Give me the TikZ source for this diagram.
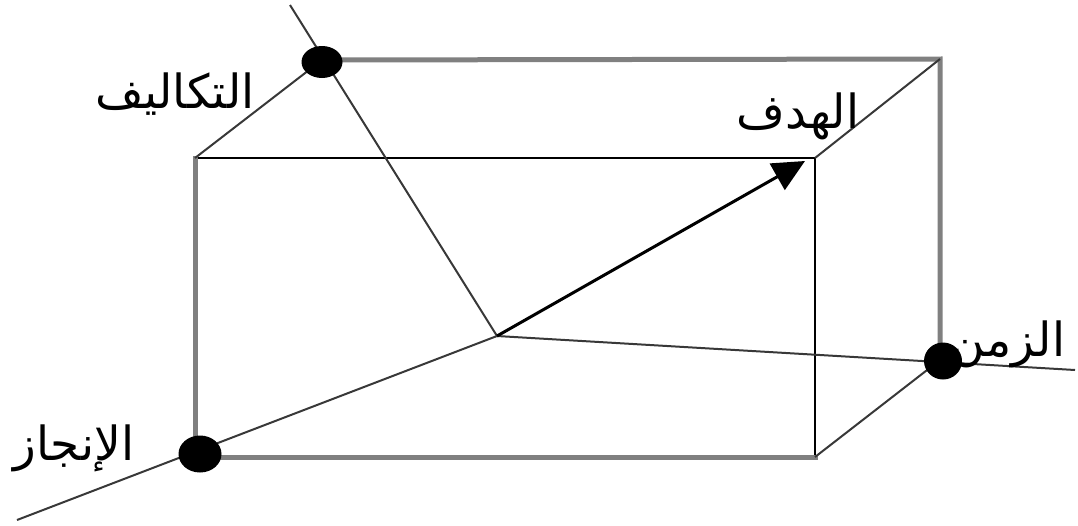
\documentclass[tikz,border=0pt]{standalone}
\usepackage{fontspec}
\newfontfamily\arabicfont[Script=Arabic]{DejaVu Sans}
\TeXXeTstate=1
\usetikzlibrary{arrows.meta,shapes.geometric}
\definecolor{edgegray}{HTML}{808080}
\definecolor{axisgray}{HTML}{383838}
\begin{document}
\begin{tikzpicture}[x=1pt,y=-1pt,
  grayedge/.style={draw=edgegray,line width=5pt,line cap=rect},
  thinedge/.style={draw=black,line width=2.2pt},
  diagedge/.style={draw=axisgray,line width=2pt},
  axisline/.style={draw=axisgray,line width=2pt},
  dotnode/.style={ellipse,fill=black,inner sep=0pt},
  lbl/.style={font=\arabicfont\fontsize{47}{54}\selectfont,anchor=base,inner sep=0pt}]
\useasboundingbox (0,0) rectangle (1078,525);
% corners
\coordinate (FTL) at (195,158);
\coordinate (FTR) at (815,158);
\coordinate (FBR) at (815,457);
\coordinate (FBL) at (195,457);
\coordinate (BTL) at (322,60);
\coordinate (BTR) at (940,59);
\coordinate (BBR) at (940,360);
\coordinate (O) at (497,336);
\coordinate (costEnd) at (290,5);
\coordinate (achEnd) at (17,520);
\coordinate (timeEnd) at (1075,370);
\coordinate (goal) at (805,161);
% box
\draw[thinedge] (FTL) -- (FTR) -- (FBR);
\draw[grayedge] (FTL) -- (FBL) -- (FBR);
\draw[grayedge] (BTL) -- (BTR) -- (BBR);
\draw[diagedge] (FTL) -- (BTL);
\draw[diagedge] (FTR) -- (BTR);
\draw[diagedge] (FBR) -- (BBR);
% axes
\draw[axisline] (costEnd) -- (O);
\draw[axisline] (achEnd) -- (O);
\draw[axisline] (O) -- (timeEnd);
\draw[black,line width=3pt,-{Triangle[length=32pt,width=30pt]}] (O) -- (goal);
% dots
\node[dotnode,minimum width=41pt,minimum height=32pt] (costDot) at (322,62) {};
\node[dotnode,minimum width=43pt,minimum height=37pt] (achDot) at (200,454) {};
\node[dotnode,minimum width=38pt,minimum height=37pt] (timeDot) at (943,361) {};
% labels
\node[lbl] (costLbl) at (175,108) {\beginR التكاليف\endR};
\node[lbl] (goalLbl) at (798,128) {\beginR الهدف\endR};
\node[lbl] (timeLbl) at (1008,356) {\beginR الزمن\endR};
\node[lbl] (achLbl) at (74,460) {\beginR الإنجاز\endR};
\end{tikzpicture}
\end{document}
